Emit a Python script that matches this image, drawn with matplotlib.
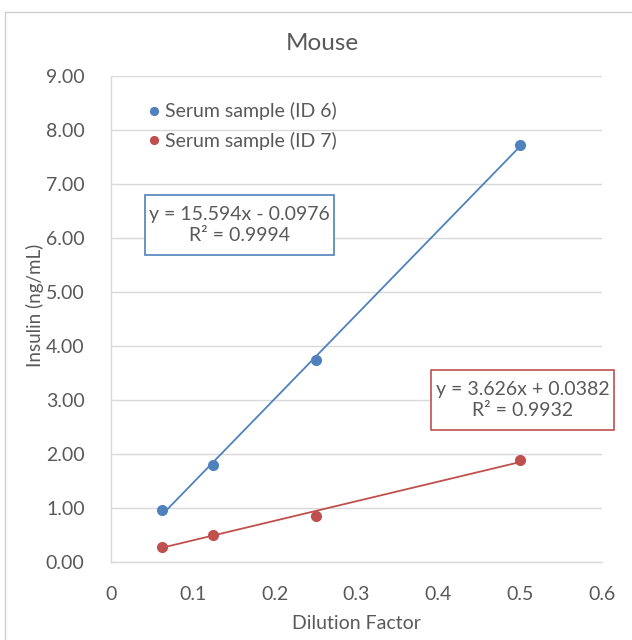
import matplotlib.pyplot as plt
from matplotlib.patches import Rectangle
import numpy as np

plt.rcParams['font.family'] = ['Lato', 'DejaVu Sans']

# data
dilution = [0.0625, 0.125, 0.25, 0.5]
id6 = [0.97, 1.80, 3.74, 7.73]
id7 = [0.28, 0.50, 0.86, 1.88]
series_names = ['Serum sample (ID 6)', 'Serum sample (ID 7)']
fits = [(15.594, -0.0976), (3.626, 0.0382)]
fit_labels = ['y = 15.594x - 0.0976\nR² = 0.9994', 'y = 3.626x + 0.0382\nR² = 0.9932']
colors = ['#4F81BD', '#C0504D']
yticks = np.arange(0, 9.01, 1.0)
xticks = [0, 0.1, 0.2, 0.3, 0.4, 0.5, 0.6]

txt = '#595959'
grid = '#D9D9D9'
W, H = 632, 640

fig = plt.figure(figsize=(6.32, 6.4), dpi=100)
ax = fig.add_axes([111/W, 1-562/H, 491/W, 486/H])

# outer chart border
fig.patches.append(Rectangle((5/W, -0.05), 1.0, 1-12/H+0.05, transform=fig.transFigure,
                             fill=False, edgecolor='#D0D0D0', linewidth=1.0))

for ys, c, name, (m, b) in zip([id6, id7], colors, series_names, fits):
    ax.plot(dilution, ys, 'o', color=c, markersize=7, label=name, zorder=3)
    xs = np.array([dilution[0], dilution[-1]])
    ax.plot(xs, m*xs + b, '-', color=c, linewidth=1.3, zorder=2)

ax.set_xlim(0, 0.6)
ax.set_ylim(0, 9)
ax.set_xticks(xticks)
ax.set_xticklabels(['0', '0.1', '0.2', '0.3', '0.4', '0.5', '0.6'])
ax.set_yticks(yticks)
ax.set_yticklabels([f'{v:.2f}' for v in yticks])
ax.tick_params(length=0, labelsize=14, colors=txt)
ax.tick_params(axis='y', pad=19)
ax.tick_params(axis='x', pad=17)
ax.grid(axis='y', color=grid, linewidth=1.0)
ax.set_axisbelow(True)
for s in ['top', 'right']:
    ax.spines[s].set_visible(False)
for s in ['left', 'bottom']:
    ax.spines[s].set_color(grid)
    ax.spines[s].set_linewidth(1.0)

ax.set_xlabel('Dilution Factor', fontsize=14, color=txt, labelpad=9)
ax.set_ylabel('Insulin (ng/mL)', fontsize=13.5, color=txt, labelpad=0)
ax.yaxis.set_label_coords(35/W, 1-305/H, transform=fig.transFigure)
ax.yaxis.label.set_va('center')
fig.text(322/W, 1-44/H, 'Mouse', ha='center', va='center', fontsize=17.5, color=txt)

leg = ax.legend(loc='upper left', bbox_to_anchor=(0.045, 0.97), frameon=False, fontsize=14,
                handletextpad=0.05, labelspacing=0.58, handlelength=1.0, markerscale=0.8,
                borderaxespad=0.2)
for t in leg.get_texts():
    t.set_color(txt)

# trendline equation boxes (pixel boxes from the reference layout)
boxes = [(145, 195, 334, 255), (431, 370, 614, 430)]
for (x0, y0, x1, y1), lab, c in zip(boxes, fit_labels, colors):
    fig.patches.append(Rectangle((x0/W, 1-y1/H), (x1-x0)/W, (y1-y0)/H, transform=fig.transFigure,
                                 facecolor='white', edgecolor=c, linewidth=1.2, zorder=5))
    fig.text((x0+x1)/2/W, 1-(y0+y1)/2/H, lab, ha='center', va='center', fontsize=14,
             color=txt, linespacing=1.35, zorder=6)

fig.savefig('out.png', dpi=100)
